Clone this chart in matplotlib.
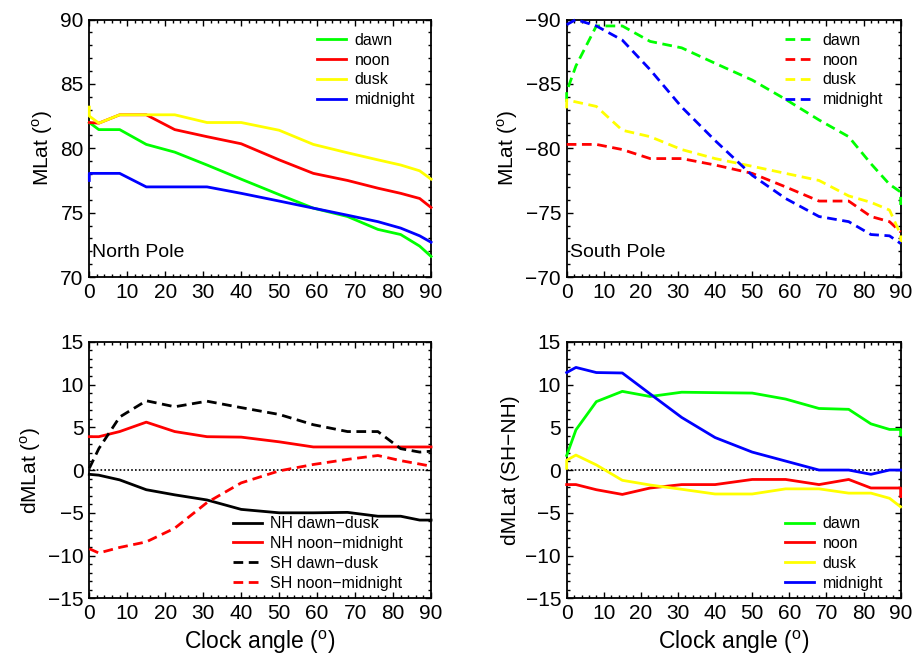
import matplotlib
matplotlib.use("Agg")
import matplotlib.pyplot as plt
from matplotlib.ticker import MultipleLocator

plt.rcParams['font.family'] = ['Liberation Sans', 'DejaVu Sans']
plt.rcParams['mathtext.fontset'] = 'custom'
plt.rcParams['mathtext.rm'] = 'Liberation Sans'

# clock angle bins (first and last bin appear twice in the data)
clock = [0, 0, 2.5, 8, 15, 22.5, 31, 40, 50, 59, 68, 76, 82, 87, 90, 90]

# North pole MLat
nh_dawn = [82.0, 82.0, 81.45, 81.45, 80.3, 79.7, 78.7, 77.6, 76.4, 75.35, 74.7, 73.7, 73.3, 72.4, 71.6, 71.6]
nh_noon = [82.0, 82.0, 81.95, 82.6, 82.6, 81.45, 80.9, 80.35, 79.1, 78.05, 77.5, 76.9, 76.5, 76.1, 75.4, 75.4]
nh_dusk = [83.2, 82.5, 81.95, 82.6, 82.6, 82.6, 82.0, 82.0, 81.4, 80.3, 79.65, 79.1, 78.7, 78.25, 77.6, 77.6]
nh_midnight = [77.5, 78.05, 78.05, 78.05, 77.0, 77.0, 77.0, 76.5, 75.9, 75.35, 74.8, 74.3, 73.8, 73.2, 72.7, 72.7]

# South pole MLat
sh_dawn = [-83.6, -84.4, -86.4, -89.5, -89.5, -88.3, -87.8, -86.6, -85.3, -83.8, -82.2, -80.9, -78.8, -77.2, -76.6, -75.6]
sh_noon = [-80.3, -80.3, -80.3, -80.3, -79.9, -79.2, -79.2, -78.7, -78.05, -77.0, -75.9, -75.9, -74.7, -74.3, -73.5, -73.5]
sh_dusk = [-83.1, -83.75, -83.6, -83.25, -81.4, -80.9, -79.9, -79.2, -78.6, -78.05, -77.5, -76.3, -75.8, -75.2, -73.3, -72.7]
sh_midnight = [-89.6, -89.6, -90.0, -89.5, -88.4, -86.1, -83.2, -80.6, -77.9, -76.1, -74.7, -74.3, -73.3, -73.2, -72.6, -72.6]

# asymmetries
nh_dawn_dusk = [-0.5, -0.5, -0.6, -1.15, -2.3, -2.9, -3.5, -4.6, -5.0, -5.0, -4.95, -5.4, -5.4, -5.85, -5.85, -5.85]
nh_noon_midnight = [3.9, 3.9, 3.9, 4.5, 5.6, 4.5, 3.9, 3.85, 3.3, 2.7, 2.7, 2.7, 2.7, 2.7, 2.7, 2.7]
sh_dawn_dusk = [0.2, 0.2, 2.5, 6.2, 8.1, 7.4, 8.05, 7.3, 6.5, 5.3, 4.5, 4.5, 2.5, 2.1, 2.2, 2.2]
sh_noon_midnight = [-9.2, -9.2, -9.7, -9.05, -8.4, -6.8, -3.8, -1.5, -0.1, 0.65, 1.25, 1.7, 1.1, 0.7, 0.45, 0.45]

# SH - NH differences
d_dawn = [1.7, 1.7, 4.7, 8.0, 9.2, 8.6, 9.1, 9.05, 9.0, 8.3, 7.2, 7.1, 5.4, 4.75, 4.75, 4.1]
d_noon = [-1.7, -1.7, -1.7, -2.3, -2.85, -2.1, -1.7, -1.7, -1.1, -1.1, -1.7, -1.1, -2.1, -2.1, -2.1, -3.1]
d_dusk = [0.2, 1.15, 1.75, 0.6, -1.2, -1.75, -2.25, -2.8, -2.8, -2.2, -2.2, -2.7, -2.7, -3.3, -4.3, -4.3]
d_midnight = [11.4, 11.4, 12.0, 11.4, 11.35, 8.9, 6.15, 3.8, 2.1, 1.05, 0.0, 0.0, -0.5, 0.0, 0.0, 0.0]

sectors = ['dawn', 'noon', 'dusk', 'midnight']
colors = ['#00ff00', '#ff0000', '#ffff00', '#0000ff']

fig = plt.figure(figsize=(9.15, 6.64), dpi=100)
ax1 = fig.add_axes([0.0976, 0.5828, 0.3735, 0.3878])
ax2 = fig.add_axes([0.6193, 0.5828, 0.3650, 0.3878])
ax3 = fig.add_axes([0.0976, 0.0989, 0.3735, 0.3864])
ax4 = fig.add_axes([0.6193, 0.0989, 0.3650, 0.3864])

line_kw = dict(lw=2, clip_on=False, zorder=3)
dash = (0, (3.5, 2))

# top left: north pole
for ys, c, lab in zip([nh_dawn, nh_noon, nh_dusk, nh_midnight], colors, sectors):
    ax1.plot(clock, ys, color=c, label=lab, **line_kw)
ax1.set_ylim(70, 90)
ax1.set_ylabel('MLat ($^{\\rm o}$)', fontsize=15)
ax1.text(0.007, 0.095, 'North Pole', transform=ax1.transAxes, fontsize=14, va='center')

# top right: south pole (inverted axis)
for ys, c, lab in zip([sh_dawn, sh_noon, sh_dusk, sh_midnight], colors, sectors):
    ax2.plot(clock, ys, color=c, ls=dash, label=lab, **line_kw)
ax2.set_ylim(-70, -90)
ax2.set_ylabel('MLat ($^{\\rm o}$)', fontsize=15)
ax2.text(0.01, 0.095, 'South Pole', transform=ax2.transAxes, fontsize=14, va='center')

# bottom left: dawn-dusk and noon-midnight asymmetry
ax3.axhline(0, color='black', lw=1.2, ls=(0, (1, 1.3)), zorder=1)
ax3.plot(clock, nh_dawn_dusk, color='black', label='NH dawn\u2212dusk', **line_kw)
ax3.plot(clock, nh_noon_midnight, color='red', label='NH noon\u2212midnight', **line_kw)
ax3.plot(clock, sh_dawn_dusk, color='black', ls=dash, label='SH dawn\u2212dusk', **line_kw)
ax3.plot(clock, sh_noon_midnight, color='red', ls=dash, label='SH noon\u2212midnight', **line_kw)
ax3.set_ylim(-15, 15)
ax3.set_ylabel('dMLat ($^{\\rm o}$)', fontsize=15)

# bottom right: SH - NH
ax4.axhline(0, color='black', lw=1.2, ls=(0, (1, 1.3)), zorder=1)
for ys, c, lab in zip([d_dawn, d_noon, d_dusk, d_midnight], colors, sectors):
    ax4.plot(clock, ys, color=c, label=lab, **line_kw)
ax4.set_ylim(-15, 15)
ax4.set_ylabel('dMLat (SH\u2212NH)', fontsize=15)

for ax in [ax3, ax4]:
    ax.set_xlabel('Clock angle ($^{\\rm o}$)', fontsize=16.5)

for ax in [ax1, ax2, ax3, ax4]:
    ax.set_xlim(0, 90)
    ax.xaxis.set_major_locator(MultipleLocator(10))
    ax.xaxis.set_minor_locator(MultipleLocator(2))
    ax.yaxis.set_major_locator(MultipleLocator(5))
    ax.yaxis.set_minor_locator(MultipleLocator(1))
    ax.tick_params(which='both', direction='in', top=True, right=True, labelsize=15, width=1)
    ax.tick_params(which='major', length=4, pad=4)
    ax.tick_params(which='minor', length=2)
    for sp in ax.spines.values():
        sp.set_linewidth(1.3)

leg_kw = dict(frameon=False, fontsize=11.5, handlelength=1.8, handletextpad=0.55,
              labelspacing=0.3, borderpad=0, borderaxespad=0)
ax1.legend(loc='upper left', bbox_to_anchor=(0.666, 0.948), **leg_kw)
ax2.legend(loc='upper left', bbox_to_anchor=(0.654, 0.948), **leg_kw)
ax3.legend(loc='lower left', bbox_to_anchor=(0.42, 0.03), **leg_kw)
ax4.legend(loc='lower left', bbox_to_anchor=(0.654, 0.03), **leg_kw)

fig.savefig('out.png', dpi=100)
